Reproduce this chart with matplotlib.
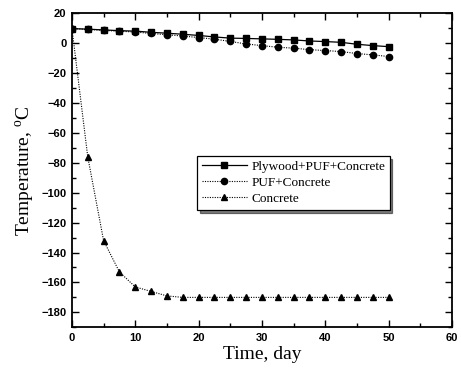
import matplotlib
matplotlib.use("Agg")
import matplotlib.pyplot as plt
import numpy as np
from matplotlib.ticker import MultipleLocator

# time in days, sampled every 2.5 days
days = [0, 2.5, 5, 7.5, 10, 12.5, 15, 17.5, 20, 22.5, 25,
        27.5, 30, 32.5, 35, 37.5, 40, 42.5, 45, 47.5, 50]

plywood_puf_concrete = [9.8, 9.4, 8.9, 8.4, 8.1, 7.3, 6.7, 6.0, 5.2, 4.2, 3.4,
                        3.2, 2.9, 2.6, 2.2, 1.5, 1.1, 0.6, -0.7, -1.6, -2.3]
puf_concrete = [9.8, 9.2, 8.6, 8.0, 7.5, 6.5, 5.7, 4.8, 3.8, 2.7, 1.2,
                -0.5, -1.6, -2.7, -3.3, -4.3, -4.9, -5.6, -6.9, -7.8, -8.9]
concrete = [10, -76, -132, -153, -163, -166, -169, -170, -170, -170, -170,
            -170, -170, -170, -170, -170, -170, -170, -170, -170, -170]

labels = ["Plywood+PUF+Concrete", "PUF+Concrete", "Concrete"]

plt.rcParams.update({
    "font.family": "Liberation Sans",
    "mathtext.fontset": "custom",
    "mathtext.rm": "Liberation Serif",
})

fig = plt.figure(figsize=(4.61, 3.75), dpi=100)
ax = fig.add_axes([0.156, 0.1272, 0.8245, 0.8373])

ax.plot(days, plywood_puf_concrete, color="black", linestyle="-", linewidth=0.9,
        marker="s", markersize=4.5, label=labels[0])
ax.plot(days, puf_concrete, color="black", linestyle=(0, (1, 1.2)), linewidth=0.8,
        marker="o", markersize=4.5, label=labels[1])
ax.plot(days, concrete, color="black", linestyle=(0, (1, 1.2)), linewidth=0.8,
        marker="^", markersize=4.5, label=labels[2])

ax.set_xlim(0, 60)
ax.set_ylim(-190, 20)
ax.xaxis.set_major_locator(MultipleLocator(10))
ax.xaxis.set_minor_locator(MultipleLocator(5))
ax.yaxis.set_major_locator(MultipleLocator(20))
ax.yaxis.set_minor_locator(MultipleLocator(10))
ax.set_yticks(np.arange(-180, 21, 20))

ax.tick_params(which="both", direction="in", top=True, right=True, width=1.0)
ax.tick_params(which="major", length=5, labelsize=8, pad=4)
ax.tick_params(which="minor", length=3)
for lbl in ax.get_xticklabels() + ax.get_yticklabels():
    lbl.set_fontweight("bold")
for sp in ax.spines.values():
    sp.set_linewidth(1.3)

ax.set_xlabel("Time, day", family="Liberation Serif", fontsize=14, labelpad=2)
ax.set_ylabel("Temperature, $^\\mathrm{o}$C", family="Liberation Serif", fontsize=14, labelpad=3)

leg = ax.legend(loc="upper left", bbox_to_anchor=(0.312, 0.567), frameon=True,
                fancybox=False, edgecolor="black", shadow={"color": "black"},
                prop={"family": "Liberation Serif", "size": 9.5},
                handlelength=3.4, handletextpad=0.35, borderpad=0.35, labelspacing=0.3)
leg.get_frame().set_linewidth(0.9)

fig.savefig("out.png", dpi=100, facecolor="white")
